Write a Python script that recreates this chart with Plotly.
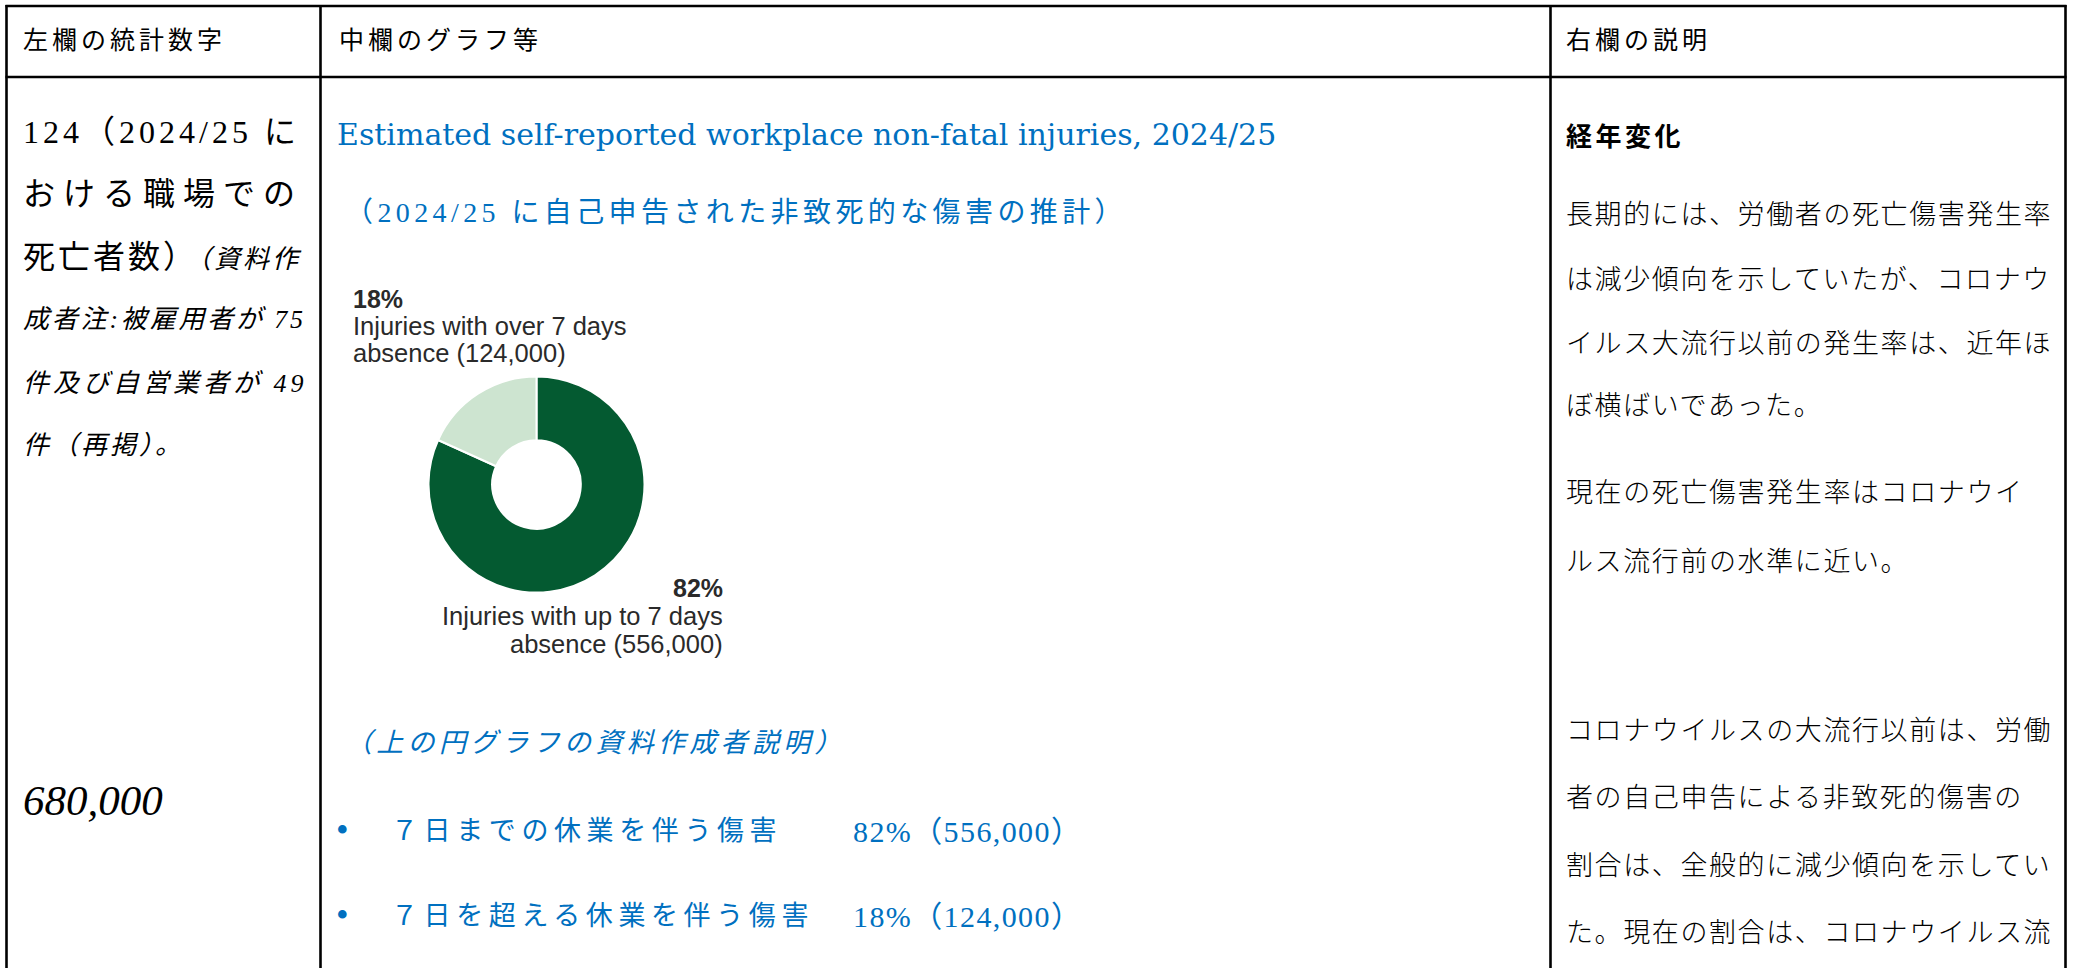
import plotly.graph_objects as go

W, H = 2073, 968

# ---------------- data ----------------
header_texts = ["左欄の統計数字", "中欄のグラフ等", "右欄の説明"]

segment_labels = ["Injuries with up to 7 days absence", "Injuries with over 7 days absence"]
segment_values = [556000, 124000]
segment_colors = ["#045a31", "#cde4d0"]

left_lines = ["124（2024/25 に", "おける職場での", "死亡者数）", "成者注:被雇用者が 75", "件及び自営業者が 49", "件（再掲）。"]
left_note_tail = "（資料作"
left_total = "680,000"

chart_title = "Estimated self-reported workplace non-fatal injuries, 2024/25"
chart_subtitle = "（2024/25 に自己申告された非致死的な傷害の推計）"
explain_heading = "（上の円グラフの資料作成者説明）"
bullet_names = ["７日までの休業を伴う傷害", "７日を超える休業を伴う傷害"]

right_heading = "経年変化"
right_par1 = ["長期的には、労働者の死亡傷害発生率", "は減少傾向を示していたが、コロナウ",
              "イルス大流行以前の発生率は、近年ほ", "ぼ横ばいであった。"]
right_par2 = ["現在の死亡傷害発生率はコロナウイ", "ルス流行前の水準に近い。"]
right_par3 = ["コロナウイルスの大流行以前は、労働", "者の自己申告による非致死的傷害の",
              "割合は、全般的に減少傾向を示してい", "た。現在の割合は、コロナウイルス流"]

# ---------------- helpers ----------------
SERIF = "Liberation Serif, Noto Sans CJK JP, serif"
TITLE_SERIF = "DejaVu Serif, Noto Sans CJK JP, serif"
GOTHIC = "Noto Sans CJK JP, sans-serif"
SANS = "Liberation Sans, Arial, sans-serif"
BLUE = "#0070c0"

fig = go.Figure()

total = sum(segment_values)
fig.add_trace(go.Pie(
    values=segment_values, labels=segment_labels, sort=False, direction="clockwise",
    rotation=0, hole=0.41, textinfo="none", showlegend=False,
    marker=dict(colors=segment_colors, line=dict(color="white", width=2)),
    domain=dict(x=[(536.5 - 108) / W, (536.5 + 108) / W],
                y=[1 - (484.5 + 108) / H, 1 - (484.5 - 108) / H]),
))


def px(x):
    return x / W


def py(y):
    return 1 - y / H


def txt(x, y, text, size, color="#000000", family=SERIF, ls=0, xanchor="left",
        weight="normal", style="normal"):
    inner = text
    if ls:
        inner = f'<span style="letter-spacing:{ls}px">{inner}</span>'
    fig.add_annotation(x=px(x), y=py(y), xref="paper", yref="paper", text=inner,
                       showarrow=False, xanchor=xanchor, yanchor="middle",
                       align=xanchor if xanchor != "center" else "center",
                       borderpad=0,
                       font=dict(size=size, color=color, family=family,
                                 weight=weight, style=style))


# table lines
LW = 2.6
line_style = dict(color="black", width=LW)
L, R, T, B = 6.5, 2065.5, 6, H + 5
for x in (L, 320.5, 1550.5, R):
    fig.add_shape(type="line", xref="paper", yref="paper", x0=px(x), x1=px(x),
                  y0=py(T - 1), y1=py(B), line=line_style)
for y in (T, 77):
    fig.add_shape(type="line", xref="paper", yref="paper", x0=px(L - 1), x1=px(R + 1),
                  y0=py(y), y1=py(y), line=line_style)

# headers
for xh, t in zip((22, 338, 1565), header_texts):
    txt(xh, 38, t, 25, family=GOTHIC, ls=4)

# left column
left_y = [132, 194, 257, 319, 383, 445]
left_ls = [4, 8, 3, 2.8, 4, 3]
for i, (yy, t) in enumerate(zip(left_y, left_lines)):
    if i < 2:
        txt(22, yy, t, 32, ls=left_ls[i])
    elif i == 2:
        txt(22, yy, t + f'<span style="font-size:26px;font-style:italic">{left_note_tail}</span>',
            32, ls=left_ls[i])
    else:
        txt(22, yy, t, 26, ls=left_ls[i], style="italic")
txt(22, 800, left_total, 43, style="italic")

# centre column texts
txt(336, 134, chart_title, 30, color=BLUE, family=TITLE_SERIF)
txt(344, 212, chart_subtitle, 28, color=BLUE, ls=4.4)

# donut labels
pcts = [round(v * 100 / total) for v in segment_values]
lab_col = "#2a2a2a"
for i, (lab, v, p) in enumerate(zip(segment_labels, segment_values, pcts)):
    first, second = lab.rsplit(" absence", 1)[0], "absence"
    second = f"{second} ({v:,})"
    if i == 0:
        xa, xx, ys = "right", 724, (588, 616, 644)
    else:
        xa, xx, ys = "left", 352, (299, 326, 353)
    txt(xx, ys[0], f"<b>{p}%</b>", 25, color=lab_col, family=SANS, xanchor=xa)
    txt(xx, ys[1], first, 25.5, color=lab_col, family=SANS, xanchor=xa)
    txt(xx, ys[2], second, 25.5, color=lab_col, family=SANS, xanchor=xa)

# explanation of the donut
txt(344, 743, explain_heading, 27, color=BLUE, ls=4.3, style="italic")
for yy, name, v, p in zip((831, 916), bullet_names, segment_values, pcts):
    txt(335, yy - 1, "•", 36, color=BLUE, family=SERIF)
    txt(390, yy, name, 27, color=BLUE, ls=5.6)
    txt(852, yy, f"{p}%（{v:,}）", 30, color=BLUE, family=SERIF, ls=1.4)

# right column
txt(1565, 134, right_heading, 26, family=GOTHIC, weight="bold", ls=3.5)
for ys, par in (((215, 280, 344, 406), right_par1), ((493, 562), right_par2),
                ((731, 798, 866, 933), right_par3)):
    for yy, t in zip(ys, par):
        txt(1565, yy, t, 27, family=SERIF, ls=1.6, weight=300)

fig.update_layout(width=W, height=H, margin=dict(l=0, r=0, t=0, b=0),
                  paper_bgcolor="white", plot_bgcolor="white")

fig.write_html("out.html", config={"displayModeBar": False},
               post_script="document.body.style.margin='0';")
